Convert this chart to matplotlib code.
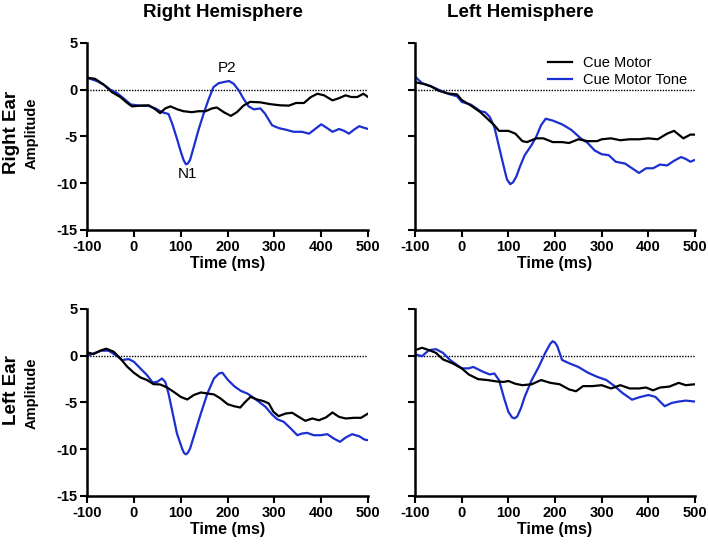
import matplotlib.pyplot as plt

plt.rcParams['font.family'] = ['Liberation Sans', 'DejaVu Sans']
plt.rcParams['axes.unicode_minus'] = False

# Right ear / right hemisphere
t_rerh_cm = [-100, -83, -65, -47, -29, -14, -4, 14, 32, 46, 56, 67, 78, 93, 106, 124, 138, 153, 167, 177,
             192, 207, 220, 234, 248, 270, 292, 313, 331, 346, 363, 378, 392, 406, 424, 438, 452, 464, 477, 490, 500]
v_rerh_cm = [1.28, 1.17, 0.57, -0.25, -0.78, -1.42, -1.78, -1.7, -1.67, -2.1, -2.5, -2.0, -1.78, -2.1, -2.3, -2.4,
             -2.3, -2.3, -2.0, -1.9, -2.4, -2.8, -2.4, -1.7, -1.3, -1.35, -1.55, -1.67, -1.7, -1.42, -1.42, -0.78,
             -0.43, -0.6, -1.14, -0.9, -0.6, -0.78, -0.78, -0.43, -0.78]
t_rerh_cmt = [-100, -79, -62, -50, -36, -21, -7, 11, 32, 46, 60, 74, 83, 93, 100, 106, 111, 115, 120, 128, 138,
              148, 159, 170, 181, 192, 203, 213, 224, 234, 245, 256, 270, 280, 295, 309, 324, 341, 359, 374, 388,
              400, 411, 424, 438, 449, 459, 470, 481, 490, 500]
v_rerh_cmt = [1.28, 0.93, 0.46, 0.0, -0.36, -0.96, -1.57, -1.7, -1.74, -2.0, -2.4, -2.6, -3.8, -5.4, -6.6, -7.5,
              -7.97, -7.9, -7.5, -6.1, -4.3, -2.7, -1.1, 0.28, 0.7, 0.82, 0.93, 0.64, -0.07, -0.96, -1.78, -2.1,
              -2.0, -2.56, -3.8, -4.1, -4.27, -4.5, -4.5, -4.7, -4.16, -3.7, -4.05, -4.5, -4.2, -4.4, -4.7, -4.27,
              -3.9, -4.05, -4.2]

# Right ear / left hemisphere
t_relh_cm = [-100, -80, -65, -50, -30, -10, 0, 20, 40, 55, 70, 80, 100, 115, 130, 140, 160, 175, 195, 215, 230,
             250, 270, 290, 300, 320, 340, 360, 380, 400, 420, 440, 455, 475, 490, 500]
v_relh_cm = [0.8, 0.6, 0.35, -0.1, -0.4, -0.5, -1.1, -1.7, -2.4, -3.1, -3.8, -4.4, -4.4, -4.7, -5.5, -5.6, -5.2,
             -5.2, -5.6, -5.6, -5.7, -5.3, -5.5, -5.5, -5.3, -5.2, -5.4, -5.3, -5.3, -5.2, -5.3, -4.7, -4.4, -5.2,
             -4.8, -4.8]
t_relh_cmt = [-100, -85, -65, -45, -25, -10, 0, 20, 40, 50, 60, 70, 80, 90, 97, 104, 110, 117, 125, 135, 150,
              160, 170, 180, 195, 215, 235, 255, 270, 285, 300, 315, 330, 350, 365, 380, 395, 410, 425, 440, 455,
              470, 480, 490, 500]
v_relh_cmt = [1.4, 0.7, 0.35, -0.1, -0.5, -0.7, -1.3, -1.6, -2.3, -2.4, -2.9, -4.0, -6.1, -8.2, -9.6, -10.1,
              -9.9, -9.3, -8.2, -7.0, -5.9, -5.0, -3.8, -3.1, -3.3, -3.7, -4.3, -5.2, -5.7, -6.5, -6.9, -7.0, -7.7,
              -7.9, -8.4, -8.9, -8.4, -8.4, -8.0, -8.1, -7.6, -7.2, -7.4, -7.7, -7.5]

# Left ear / right hemisphere
t_lerh_cm = [-100, -86, -72, -59, -43, -29, -14, 0, 14, 28, 42, 56, 71, 85, 100, 114, 128, 143, 157, 171, 185,
             200, 214, 227, 238, 249, 263, 277, 288, 298, 309, 324, 338, 352, 366, 381, 395, 410, 424, 438, 452,
             470, 485, 500]
v_lerh_cm = [0.36, 0.18, 0.54, 0.75, 0.43, -0.29, -1.18, -1.82, -2.32, -2.6, -3.04, -3.07, -3.4, -3.86, -4.4,
             -4.68, -4.2, -3.93, -4.04, -4.14, -4.57, -5.18, -5.4, -5.54, -4.93, -4.4, -4.68, -4.86, -5.1, -6.0,
             -6.46, -6.18, -6.1, -6.54, -6.96, -6.71, -6.9, -6.6, -6.07, -6.54, -6.71, -6.64, -6.64, -6.18]
t_lerh_cmt = [-100, -86, -69, -54, -39, -25, -11, 0, 14, 28, 40, 50, 60, 67, 74, 83, 92, 103, 107, 111, 115, 120,
              131, 143, 157, 171, 182, 189, 200, 214, 228, 242, 253, 267, 281, 295, 306, 320, 335, 349, 359, 370,
              384, 399, 413, 427, 440, 452, 466, 481, 492, 500]
v_lerh_cmt = [-0.04, 0.25, 0.54, 0.54, 0.07, -0.46, -0.36, -0.64, -1.36, -2.07, -2.86, -2.79, -2.43, -2.79, -4.04,
              -6.18, -8.32, -9.93, -10.4, -10.54, -10.4, -9.93, -8.14, -6.18, -4.04, -2.43, -1.89, -1.82, -2.54,
              -3.25, -3.75, -4.04, -4.4, -4.93, -5.46, -6.29, -6.79, -7.07, -7.79, -8.5, -8.32, -8.25, -8.5, -8.5,
              -8.39, -8.86, -9.21, -8.75, -8.39, -8.61, -8.96, -9.04]

# Left ear / left hemisphere
t_lelh_cm = [-100, -85, -70, -55, -40, -20, 0, 15, 35, 55, 75, 90, 100, 115, 130, 150, 170, 190, 210, 230, 245,
             260, 280, 300, 320, 340, 360, 380, 395, 410, 425, 445, 465, 480, 500]
v_lelh_cm = [0.6, 0.85, 0.6, 0.3, -0.4, -0.8, -1.35, -2.0, -2.5, -2.6, -2.75, -2.8, -2.7, -3.0, -3.15, -3.05,
             -2.6, -2.9, -3.05, -3.6, -3.8, -3.25, -3.25, -3.15, -3.5, -3.15, -3.5, -3.5, -3.4, -3.7, -3.4, -3.3,
             -2.9, -3.15, -3.05]
t_lelh_cmt = [-100, -85, -70, -55, -40, -25, 0, 15, 25, 45, 60, 70, 80, 90, 100, 108, 113, 119, 127, 135, 150, 165,
              180, 190, 195, 200, 205, 215, 230, 250, 270, 290, 310, 325, 345, 365, 380, 400, 415, 435, 450, 465,
              480, 500]
v_lelh_cmt = [0.15, -0.05, 0.6, 0.7, 0.3, -0.45, -1.35, -1.35, -1.2, -1.7, -2.0, -1.9, -2.6, -4.4, -6.0, -6.6,
              -6.7, -6.5, -5.6, -4.4, -2.6, -1.2, 0.4, 1.3, 1.55, 1.4, 1.0, -0.45, -0.8, -1.2, -1.8, -2.25, -2.6,
              -3.15, -4.0, -4.7, -4.45, -4.2, -4.4, -5.4, -5.05, -4.9, -4.8, -4.9]

xticks = [-100, 0, 100, 200, 300, 400, 500]
yticks = [-15, -10, -5, 0, 5]
blue = '#1c2fd0'

fig = plt.figure(figsize=(7.08, 5.46), dpi=100)
axes = {
    'rerh': fig.add_axes([0.1229, 0.5788, 0.397, 0.3425]),
    'relh': fig.add_axes([0.5862, 0.5788, 0.3955, 0.3425]),
    'lerh': fig.add_axes([0.1229, 0.0916, 0.397, 0.3425]),
    'lelh': fig.add_axes([0.5862, 0.0916, 0.3955, 0.3425]),
}
series = {
    'rerh': (t_rerh_cm, v_rerh_cm, t_rerh_cmt, v_rerh_cmt),
    'relh': (t_relh_cm, v_relh_cm, t_relh_cmt, v_relh_cmt),
    'lerh': (t_lerh_cm, v_lerh_cm, t_lerh_cmt, v_lerh_cmt),
    'lelh': (t_lelh_cm, v_lelh_cm, t_lelh_cmt, v_lelh_cmt),
}

for key, ax in axes.items():
    t1, v1, t2, v2 = series[key]
    ax.plot([-100, 500], [0, 0], color='black', lw=1.0, ls=(0, (1, 1)), zorder=1)
    ax.plot(t1, v1, color='black', lw=1.6, label='Cue Motor', zorder=3)
    ax.plot(t2, v2, color=blue, lw=1.6, label='Cue Motor Tone', zorder=2)
    ax.set_xlim(-100, 500)
    ax.set_ylim(-15, 5)
    ax.set_xticks(xticks)
    ax.set_yticks(yticks)
    for s in ['top', 'right']:
        ax.spines[s].set_visible(False)
    for s in ['left', 'bottom']:
        ax.spines[s].set_linewidth(1.8)
    ax.tick_params(width=1.5, length=5, labelsize=10.5, pad=2)
    for lbl in ax.get_xticklabels() + ax.get_yticklabels():
        lbl.set_fontweight('bold')
    ax.set_xlabel('Time (ms)', fontsize=11.5, fontweight='bold', labelpad=2)
    if key in ('relh', 'lelh'):
        ax.set_yticklabels([])

axes['relh'].legend(loc='upper right', bbox_to_anchor=(1.02, 1.0), frameon=False, fontsize=10.5,
                    handlelength=1.6, handletextpad=0.8, labelspacing=0.2)

axes['rerh'].text(115, -9.0, 'N1', fontsize=11, ha='center', va='center')
axes['rerh'].text(199, 2.3, 'P2', fontsize=11, ha='center', va='center')

fig.text(0.315, 0.978, 'Right Hemisphere', fontsize=13.5, fontweight='bold', ha='center', va='center')
fig.text(0.735, 0.978, 'Left Hemisphere', fontsize=13.5, fontweight='bold', ha='center', va='center')
fig.text(0.016, 1 - 132 / 546, 'Right Ear', fontsize=13.5, fontweight='bold', rotation=90, ha='center', va='center')
fig.text(0.045, 1 - 133 / 546, 'Amplitude', fontsize=10.5, fontweight='bold', rotation=90, ha='center', va='center')
fig.text(0.016, 1 - 390 / 546, 'Left Ear', fontsize=13.5, fontweight='bold', rotation=90, ha='center', va='center')
fig.text(0.045, 1 - 393 / 546, 'Amplitude', fontsize=10.5, fontweight='bold', rotation=90, ha='center', va='center')

plt.savefig('out.png', dpi=100)
